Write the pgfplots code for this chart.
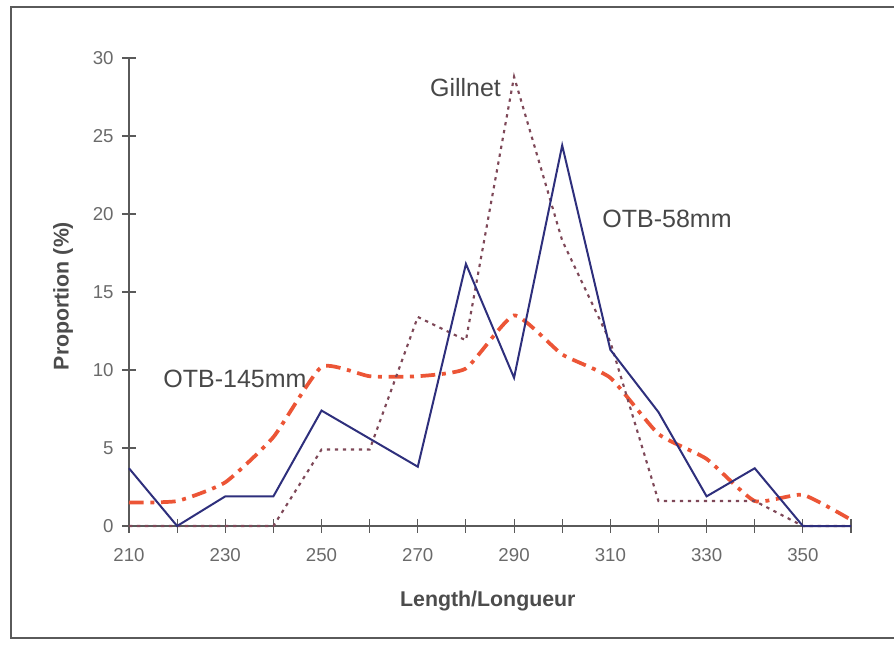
\documentclass[border=0pt]{standalone}
\usepackage{fontspec}
\setmainfont{Liberation Sans}
\usepackage{pgfplots}
\pgfplotsset{compat=1.18}

\definecolor{navyline}{HTML}{2E2F7C}
\definecolor{gillcol}{HTML}{7E4858}
\definecolor{redline}{HTML}{EC5536}
\definecolor{txtgray}{HTML}{6A6A6A}
\definecolor{axgray}{HTML}{5A5A5A}

\begin{document}
\begin{tikzpicture}
\useasboundingbox (0,0) rectangle (670.5pt,488.25pt);
% outer frame (open on the right)
\draw[axgray, line width=1pt] (690pt,483pt) -- (8.25pt,483pt) -- (8.25pt,9.75pt) -- (690pt,9.75pt);

\begin{axis}[
  at={(96.75pt,93.75pt)}, anchor=south west,
  scale only axis, width=541.5pt, height=351pt,
  xmin=210, xmax=360, ymin=0, ymax=30,
  axis lines*=left,
  axis line style={axgray, line width=0.8pt, -},
  xtick={210,230,...,350},
  minor xtick={220,240,...,360},
  ytick={0,5,...,30},
  tick align=center,
  major tick length=10pt, minor tick length=10pt,
  tick style={axgray, line width=0.8pt},
  every minor tick/.append style={axgray, line width=0.8pt},
  /pgf/number format/assume math mode=true,
  /pgf/number format/1000 sep={},
  ticklabel style={font=\fontsize{14}{16}\selectfont, text=txtgray},
  xticklabel style={yshift=-8pt},
  yticklabel style={xshift=-3pt},
  xlabel={Length/Longueur},
  ylabel={Proportion (\%)},
  label style={font=\fontsize{16}{18}\bfseries\selectfont, text=black!70},
  xlabel style={at={(axis description cs:0.497,-0.16)}, anchor=center},
  ylabel style={at={(axis description cs:-0.0914,0.4915)}, anchor=center},
  clip=false,
]
% OTB-145mm
\addplot[redline, line width=2.8pt, dash pattern=on 11pt off 5pt on 3pt off 5pt, smooth, tension=0.3] coordinates {
 (210,1.5) (220,1.6) (230,2.8) (240,5.7) (250,10.2) (260,9.6) (270,9.6) (280,10.1)
 (290,13.5) (300,11.0) (310,9.5) (320,5.9) (330,4.3) (340,1.6) (350,2.0) (360,0.4)};
% Gillnet
\addplot[gillcol, line width=1.6pt, dash pattern=on 2.5pt off 3.5pt] coordinates {
 (210,0) (220,0) (230,0) (240,0) (250,4.9) (260,4.9) (270,13.4) (280,11.9)
 (290,28.8) (300,18.3) (310,11.8) (320,1.6) (330,1.6) (340,1.6) (350,0) (360,0)};
% OTB-58mm
\addplot[navyline, line width=1.5pt] coordinates {
 (210,3.7) (220,0) (230,1.9) (240,1.9) (250,7.4) (260,5.6) (270,3.8) (280,16.8)
 (290,9.5) (300,24.4) (310,11.3) (320,7.3) (330,1.9) (340,3.7) (350,0) (360,0)};

\node[anchor=west, font=\fontsize{18.75}{20}\selectfont, text=black!72, inner sep=0pt] at (axis cs:272.5,28.1) {Gillnet};
\node[anchor=west, font=\fontsize{18.75}{20}\selectfont, text=black!72, inner sep=0pt] at (axis cs:308.3,19.7) {OTB-58mm};
\node[anchor=west, font=\fontsize{18.75}{20}\selectfont, text=black!72, inner sep=0pt] at (axis cs:217.1,9.4) {OTB-145mm};
\end{axis}
\end{tikzpicture}
\end{document}
